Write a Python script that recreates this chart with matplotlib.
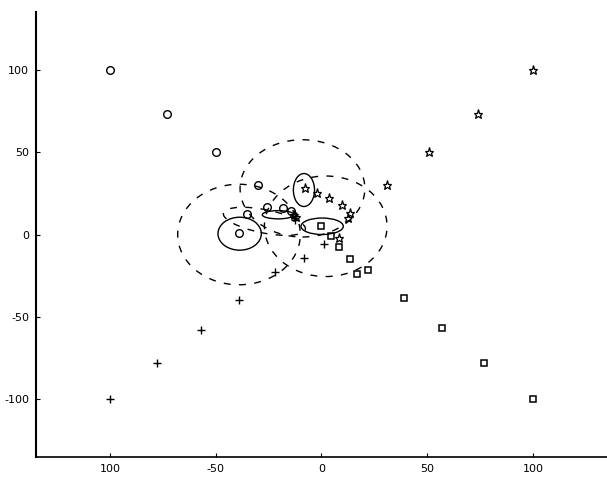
import matplotlib
matplotlib.use("Agg")
import matplotlib.pyplot as plt
from matplotlib.patches import Ellipse

# four groups of points, one marker per group
circles_x = [-100, -73, -50, -30, -35, -39, -26, -18, -14.5]
circles_y = [100, 73, 50, 30, 12.5, 1, 17, 16, 14]

stars_x = [100, 74, 51, 31, -8, -2, 3.5, 9.5, 13.5, 12.5, -13, -12, 8.5]
stars_y = [100, 73, 50, 30, 28, 25, 22, 18, 13, 10, 12, 10.5, -2]

plus_x = [-100, -78, -57, -39, -22, -8.5, 1, -12.5]
plus_y = [-100, -78, -58, -40, -23, -14, -5.5, 9]

squares_x = [100, 77, 57, 39, 22, 17, 13.5, 8.5, 4.5, 0]
squares_y = [-100, -78, -57, -38.5, -21.5, -24, -15, -7.5, -1, 5]

# solid ellipses: (cx, cy, width, height)
solid_ellipses = [
    (-38.7, 0.5, 20.5, 20),
    (-8.3, 27, 10, 20),
    (0.3, 5, 20, 10),
    (-20.5, 12, 15, 5),
]

# dashed ellipses: (cx, cy, width, height, angle)
dashed_ellipses = [
    (-39, 0, 58, 61, 0),
    (-9, 28, 59, 59, 0),
    (2, 5, 58, 61, 0),
    (-27, 8, 40, 14, -15),
]

ticks = [-100, -50, 0, 50, 100]
xtick_labels = ["100", "-50", "0", "50", "100"]
ytick_labels = ["-100", "-50", "0", "50", "100"]

fig = plt.figure(figsize=(6.07, 4.79), dpi=100)
ax = fig.add_axes([0.0593, 0.0459, 0.9407, 0.929])

ax.plot(circles_x, circles_y, "o", ms=5.5, mfc="none", mec="black", mew=1.0)
ax.plot(stars_x, stars_y, "*", ms=6.5, mfc="none", mec="black", mew=0.9)
ax.plot(plus_x, plus_y, "+", ms=6, color="black", mew=1.0)
ax.plot(squares_x, squares_y, "s", ms=4.5, mfc="none", mec="black", mew=1.1)

for cx, cy, w, h in solid_ellipses:
    ax.add_patch(Ellipse((cx, cy), w, h, fill=False, ec="black", lw=1.0))

for cx, cy, w, h, ang in dashed_ellipses:
    ax.add_patch(Ellipse((cx, cy), w, h, angle=ang, fill=False, ec="black",
                         lw=1.0, ls=(0, (5, 6))))

ax.set_xlim(-135, 135)
ax.set_ylim(-135, 135)
ax.set_xticks(ticks)
ax.set_xticklabels(xtick_labels)
ax.set_yticks(ticks)
ax.set_yticklabels(ytick_labels)
ax.tick_params(direction="in", length=3, width=0.8, labelsize=8, pad=5)

ax.spines["top"].set_visible(False)
ax.spines["right"].set_visible(False)
ax.spines["left"].set_linewidth(1.5)
ax.spines["bottom"].set_linewidth(1.2)

fig.savefig("out.png", dpi=100)
